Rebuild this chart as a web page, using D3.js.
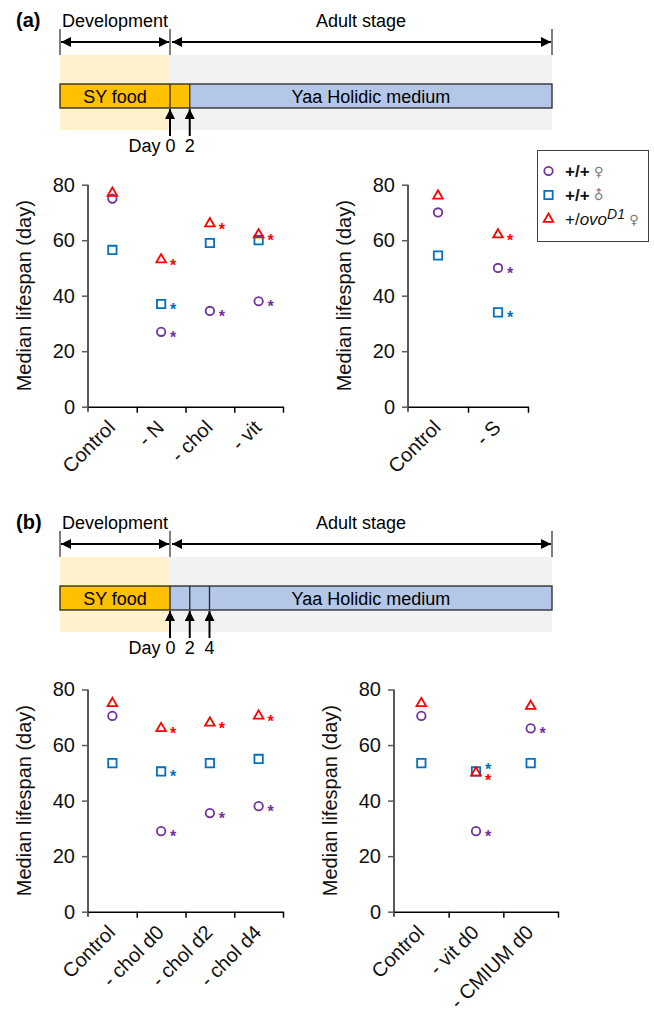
<!DOCTYPE html>
<html>
<head>
<meta charset="utf-8">
<script src="https://cdn.jsdelivr.net/npm/d3@7"></script>
<style>
  body { margin: 0; background: #fff; }
  svg { display: block; font-family: "Liberation Sans", Arial, sans-serif; }
</style>
</head>
<body>
<svg id="fig" width="654" height="1011"></svg>
<script>
// ---- timeline data
const stageNames = ["Development", "Adult stage"];
const foodNames = ["SY food", "Yaa Holidic medium"];
const dayTicksA = [0, 2];
const dayTicksB = [0, 2, 4];
const switchDayA = 2;
const switchDayB = 0;

// ---- legend
const genotypes = ["+/+", "+/+", "+/ovo"];
const sexSymbols = ["\u2640", "\u2642", "\u2640"];

// ---- (a) left
const catsA1 = ["Control", "- N", "- chol", "- vit"];
const femaleA1 = [75, 27, 34.5, 38];
const maleA1 = [56.5, 37, 59, 60];
const ovoA1 = [77, 53, 66, 62];
const femaleSigA1 = [0, 1, 1, 1];
const maleSigA1 = [0, 1, 0, 0];
const ovoSigA1 = [0, 1, 1, 1];

// ---- (a) right
const catsA2 = ["Control", "- S"];
const femaleA2 = [70, 50];
const maleA2 = [54.5, 34];
const ovoA2 = [76, 62];
const femaleSigA2 = [0, 1];
const maleSigA2 = [0, 1];
const ovoSigA2 = [0, 1];

// ---- (b) left
const catsB1 = ["Control", "- chol d0", "- chol d2", "- chol d4"];
const femaleB1 = [70.5, 29, 35.5, 38];
const maleB1 = [53.5, 50.5, 53.5, 55];
const ovoB1 = [75, 66, 68, 70.5];
const femaleSigB1 = [0, 1, 1, 1];
const maleSigB1 = [0, 1, 0, 0];
const ovoSigB1 = [0, 1, 1, 1];

// ---- (b) right
const catsB2 = ["Control", "- vit d0", "- CMIUM d0"];
const femaleB2 = [70.5, 29, 66];
const maleB2 = [53.5, 50.5, 53.5];
const ovoB2 = [75, 50, 74];
const femaleSigB2 = [0, 1, 1];
const maleSigB2 = [0, 1, 0];
const ovoSigB2 = [0, 1, 0];

const yTicks = [0, 20, 40, 60, 80];

const colors = ["#7030a0", "#0070c0", "#ff0000"];
const shapes = [d3.symbolCircle, d3.symbolSquare, d3.symbolTriangle];
const shapeSizes = [56, 70, 40];

const svg = d3.select("#fig");
svg.append("rect").attr("width", 654).attr("height", 1011).attr("fill", "#fff");

const defs = svg.append("defs");
defs.append("marker")
    .attr("id", "head")
    .attr("viewBox", "0 0 10 10")
    .attr("refX", 10).attr("refY", 5)
    .attr("markerUnits", "userSpaceOnUse")
    .attr("markerWidth", 13).attr("markerHeight", 10)
    .attr("orient", "auto-start-reverse")
    .append("path").attr("d", "M0,0L10,5L0,10z").attr("fill", "#000");
defs.append("marker")
    .attr("id", "upHead")
    .attr("viewBox", "0 0 10 10")
    .attr("refX", 10).attr("refY", 5)
    .attr("markerUnits", "userSpaceOnUse")
    .attr("markerWidth", 12).attr("markerHeight", 10)
    .attr("orient", "auto")
    .append("path").attr("d", "M0,0L10,5L0,10z").attr("fill", "#000");

const devX = 60, endX = 552;
const dayX = d3.scaleLinear().domain([0, 4]).range([170, 209.5]);

function drawTimeline(top, letter, dayTicks, switchDay) {
    const g = svg.append("g").attr("transform", `translate(0,${top})`);
    const d0 = dayX(0);

    g.append("text").attr("x", 16).attr("y", 27)
        .attr("font-size", 20).attr("font-weight", "bold").text(letter);

    // stage labels and arrows
    const stages = [[devX, d0], [d0, endX]];
    g.selectAll(".stage").data(stageNames).join("text")
        .attr("x", (d, i) => (stages[i][0] + stages[i][1]) / 2)
        .attr("y", 27).attr("text-anchor", "middle")
        .attr("font-size", 18).text(d => d);
    g.selectAll(".vt").data([devX, d0, endX]).join("line")
        .attr("x1", d => d).attr("x2", d => d)
        .attr("y1", 29).attr("y2", 55)
        .attr("stroke", "#000").attr("stroke-width", 1);
    g.selectAll(".arr").data(stages).join("line")
        .attr("x1", (d, i) => d[0] + (i ? 2 : 1)).attr("x2", d => d[1] - 1)
        .attr("y1", 42).attr("y2", 42)
        .attr("stroke", "#000").attr("stroke-width", 2)
        .attr("marker-start", "url(#head)").attr("marker-end", "url(#head)");

    // background shading
    g.append("rect").attr("x", devX).attr("y", 55).attr("width", d0 - devX).attr("height", 75).attr("fill", "#fff2cc");
    g.append("rect").attr("x", d0).attr("y", 55).attr("width", endX - d0).attr("height", 75).attr("fill", "#f2f2f2");

    // food bar
    const sw = dayX(switchDay);
    g.append("rect").attr("x", devX).attr("y", 84).attr("width", sw - devX).attr("height", 24).attr("fill", "#ffc000");
    g.append("rect").attr("x", sw).attr("y", 84).attr("width", endX - sw).attr("height", 24).attr("fill", "#b4c7e7");
    g.selectAll(".div").data(dayTicks).join("line")
        .attr("x1", d => dayX(d)).attr("x2", d => dayX(d))
        .attr("y1", 84).attr("y2", 108)
        .attr("stroke", "#262626").attr("stroke-width", 1.3);
    g.append("rect").attr("x", devX).attr("y", 84).attr("width", endX - devX).attr("height", 24)
        .attr("fill", "none").attr("stroke", "#262626").attr("stroke-width", 1.3);
    g.append("text").attr("x", (devX + d0) / 2).attr("y", 102.5).attr("text-anchor", "middle")
        .attr("font-size", 18).text(foodNames[0]);
    g.append("text").attr("x", (dayX(2) + endX) / 2).attr("y", 102.5).attr("text-anchor", "middle")
        .attr("font-size", 18).text(foodNames[1]);

    // day arrows
    g.selectAll(".up").data(dayTicks).join("line")
        .attr("x1", d => dayX(d)).attr("x2", d => dayX(d))
        .attr("y1", 136).attr("y2", 109)
        .attr("stroke", "#000").attr("stroke-width", 2)
        .attr("marker-end", "url(#upHead)");
    g.selectAll(".dl").data(dayTicks).join("text")
        .attr("x", d => dayX(d) + (d === 0 ? 5.5 : 0))
        .attr("y", 152)
        .attr("text-anchor", d => d === 0 ? "end" : "middle")
        .attr("font-size", 18)
        .text(d => d === 0 ? "Day 0" : d);
}

function drawPanel(p) {
    const g = svg.append("g");
    const x = d3.scaleBand().domain(p.cats).range([p.x0, p.x1]);
    const y = d3.scaleLinear().domain([0, 80]).range([p.yBot, p.yTop]);

    // y axis
    const ya = g.append("g").attr("transform", `translate(${p.x0},0)`)
        .call(d3.axisLeft(y).tickValues(yTicks).tickSize(6).tickPadding(7));
    ya.select(".domain").remove();
    ya.selectAll("line").attr("stroke", "#595959").attr("stroke-width", 1.5);
    ya.selectAll("text").attr("font-size", 20).attr("fill", "#111")
        .attr("font-family", "Liberation Sans, Arial, sans-serif");
    g.append("line").attr("x1", p.x0).attr("x2", p.x0)
        .attr("y1", p.yTop).attr("y2", p.yBot + 5)
        .attr("stroke", "#595959").attr("stroke-width", 2);

    // x axis with ticks between categories
    const xe = d3.scaleLinear().domain([0, p.cats.length]).range([p.x0, p.x1]);
    const xa = g.append("g").attr("transform", `translate(0,${p.yBot})`)
        .call(d3.axisBottom(xe).tickValues(d3.range(1, p.cats.length + 1)).tickFormat("").tickSizeInner(6).tickSizeOuter(0));
    xa.select(".domain").attr("stroke", "#000").attr("stroke-width", 1.5);
    xa.selectAll("line").attr("stroke", "#000").attr("stroke-width", 1.5);

    g.selectAll(".xl").data(p.cats).join("text")
        .attr("transform", d => `translate(${x(d) + x.bandwidth() / 2 + 4},${p.yBot + 22}) rotate(-45)`)
        .attr("text-anchor", "end").attr("font-size", 20).attr("fill", "#111")
        .text(d => d);

    g.append("text")
        .attr("transform", `translate(${p.x0 - 57},${(p.yTop + p.yBot) / 2}) rotate(-90)`)
        .attr("text-anchor", "middle").attr("font-size", 20).attr("fill", "#111")
        .text("Median lifespan (day)");

    const cx = i => x(p.cats[i]) + x.bandwidth() / 2;
    const idx = d3.range(p.cats.length);

    // markers: circle, square, triangle (triangle on top)
    p.series.forEach((vals, s) => {
        g.append("g").selectAll("path").data(idx).join("path")
            .attr("transform", i => `translate(${cx(i)},${y(vals[i])})`)
            .attr("d", d3.symbol(shapes[s], shapeSizes[s]))
            .attr("fill", "none").attr("stroke", colors[s]).attr("stroke-width", 1.8);
    });

    // significance stars, nudged apart when two starred points nearly coincide
    const starDy = (s, i) => {
        let dy = 2;
        p.series.forEach((o, t) => {
            if (t !== s && p.sig[t][i] && Math.abs(o[i] - p.series[s][i]) < 3)
                dy = p.series[s][i] > o[i] ? -5 : 4;
        });
        return dy;
    };
    p.series.forEach((vals, s) => {
        g.append("g").selectAll("text").data(idx.filter(i => p.sig[s][i])).join("text")
            .attr("x", i => cx(i) + 12)
            .attr("y", i => y(vals[i]) + starDy(s, i) + 9)
            .attr("text-anchor", "middle").attr("font-size", 16).attr("font-weight", "bold")
            .attr("fill", colors[s]).text("*");
    });
}

function drawLegend() {
    const g = svg.append("g");
    g.append("rect").attr("x", 537.5).attr("y", 150.5).attr("width", 111).attr("height", 91)
        .attr("fill", "#fff").attr("stroke", "#404040").attr("stroke-width", 1);
    genotypes.forEach((gt, i) => {
        const yy = 171 + i * 24;
        g.append("path").attr("transform", `translate(548.5,${yy})`)
            .attr("d", d3.symbol(shapes[i], shapeSizes[i]))
            .attr("fill", "none").attr("stroke", colors[i]).attr("stroke-width", 1.8);
        const t = g.append("text").attr("x", 565).attr("y", yy + 6).attr("font-size", 17).attr("fill", "#111");
        if (gt === "+/+") {
            t.append("tspan").attr("font-weight", "bold").text(gt);
        } else {
            t.append("tspan").text("+/");
            t.append("tspan").attr("font-style", "italic").text("ovo");
            t.append("tspan").attr("font-style", "italic").attr("font-size", 14).attr("dy", -6).text("D1");
        }
        const bb = t.node().getBBox();
        const sx = bb.x + bb.width + 9;
        g.append("text")
            .attr("transform", `translate(${sx},${yy})` + (sexSymbols[i] === "\u2642" ? " rotate(-45)" : ""))
            .attr("text-anchor", "middle").attr("dy", "0.35em")
            .attr("font-family", "DejaVu Sans").attr("font-size", 13).attr("fill", "#777")
            .text(sexSymbols[i]);
    });
}

drawTimeline(0, "(a)", dayTicksA, switchDayA);
drawTimeline(502, "(b)", dayTicksB, switchDayB);

drawPanel({ cats: catsA1, x0: 88, x1: 283, yTop: 184.7, yBot: 406.7,
    series: [femaleA1, maleA1, ovoA1], sig: [femaleSigA1, maleSigA1, ovoSigA1] });
drawPanel({ cats: catsA2, x0: 408, x1: 528, yTop: 184.7, yBot: 406.7,
    series: [femaleA2, maleA2, ovoA2], sig: [femaleSigA2, maleSigA2, ovoSigA2] });
drawPanel({ cats: catsB1, x0: 88, x1: 283, yTop: 689.5, yBot: 911.7,
    series: [femaleB1, maleB1, ovoB1], sig: [femaleSigB1, maleSigB1, ovoSigB1] });
drawPanel({ cats: catsB2, x0: 394, x1: 558, yTop: 689.5, yBot: 911.7,
    series: [femaleB2, maleB2, ovoB2], sig: [femaleSigB2, maleSigB2, ovoSigB2] });

drawLegend();
</script>
</body>
</html>
